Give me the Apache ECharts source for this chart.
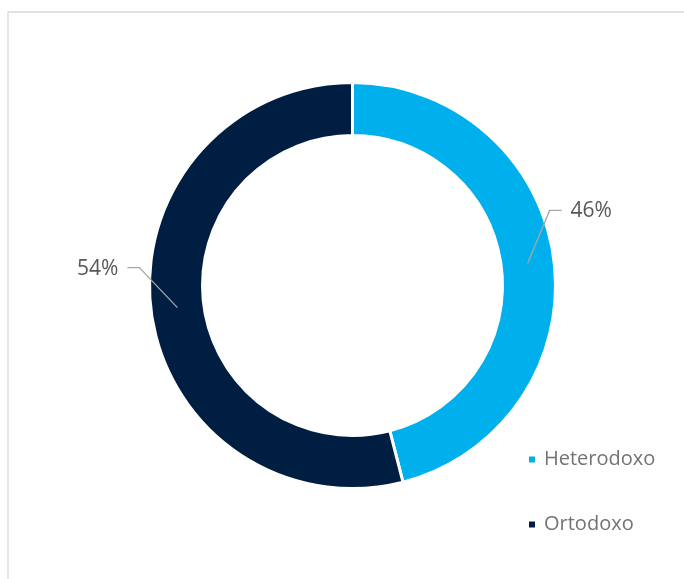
<!DOCTYPE html>
<html>
<head>
<meta charset="utf-8">
<script src="https://cdn.jsdelivr.net/npm/echarts@6/dist/echarts.min.js"></script>
<style>
  html, body { margin: 0; padding: 0; background: #ffffff; }
  #chart { width: 684px; height: 579px; }
</style>
</head>
<body>
<div id="chart"></div>
<script>
const categories = ['Heterodoxo', 'Ortodoxo'];
const values = [46, 54];
const colors = ['#00B0EC', '#001E42'];

const CX = 352.5, CY = 285.5;
const R_IN = 150, R_OUT = 203;
const R_MID = (R_IN + R_OUT) / 2;

const total = values.reduce((a, b) => a + b, 0);
function midAngle(i) {
  let cum = 0;
  for (let k = 0; k < i; k++) cum += values[k];
  return (cum + values[i] / 2) / total * Math.PI * 2;
}

function layoutLabel(params) {
  const a = midAngle(params.dataIndex);
  const sx = CX + R_MID * Math.sin(a);
  const sy = CY - R_MID * Math.cos(a);
  if (Math.sin(a) > 0) {
    const ex = sx + 22, ey = sy - 53;
    const tx = ex + 12;
    return {
      x: tx + 9, y: ey + 1, align: 'left', verticalAlign: 'middle',
      labelLinePoints: [[sx, sy], [ex, ey], [tx, ey]]
    };
  } else {
    const ex = sx - 38, ey = sy - 40;
    const tx = ex - 12;
    return {
      x: tx - 9, y: ey + 1, align: 'right', verticalAlign: 'middle',
      labelLinePoints: [[sx, sy], [ex, ey], [tx, ey]]
    };
  }
}

const chart = echarts.init(document.getElementById('chart'), null, { renderer: 'canvas' });
chart.setOption({
  animation: false,
  backgroundColor: '#ffffff',
  graphic: [{
    type: 'rect',
    silent: true,
    shape: { x: 8, y: 12, width: 720, height: 620 },
    style: { fill: 'none', stroke: '#d9d9d9', lineWidth: 1.3 }
  }],
  legend: {
    orient: 'vertical',
    left: 522,
    top: 444,
    itemWidth: 8,
    itemHeight: 8,
    itemGap: 44,
    icon: 'rect',
    selectedMode: false,
    data: categories,
    textStyle: {
      fontFamily: 'Open Sans',
      fontSize: 20,
      lineHeight: 21,
      color: '#737373',
      padding: [0, 0, 0, 3]
    }
  },
  series: [{
    type: 'pie',
    name: 'ring',
    center: [CX, CY],
    radius: [R_IN, R_OUT],
    startAngle: 90,
    clockwise: true,
    silent: true,
    z: 2,
    itemStyle: { borderColor: '#ffffff', borderWidth: 3 },
    label: { show: false },
    labelLine: { show: false },
    data: categories.map((name, i) => ({
      name: name,
      value: values[i],
      itemStyle: { color: colors[i] }
    }))
  }, {
    type: 'pie',
    name: 'labels',
    center: [CX, CY],
    radius: [R_IN, R_OUT],
    startAngle: 90,
    clockwise: true,
    silent: true,
    legendHoverLink: false,
    z: 5,
    itemStyle: { color: 'rgba(0,0,0,0)', borderWidth: 0 },
    label: {
      show: true,
      position: 'outside',
      formatter: '{c}%',
      fontFamily: 'Open Sans',
      fontSize: 21,
      color: '#595959'
    },
    labelLine: {
      show: true,
      lineStyle: { color: '#a6a6a6', width: 1.3 }
    },
    labelLayout: layoutLabel,
    data: categories.map((name, i) => ({
      name: name,
      value: values[i]
    }))
  }]
});
</script>
</body>
</html>
